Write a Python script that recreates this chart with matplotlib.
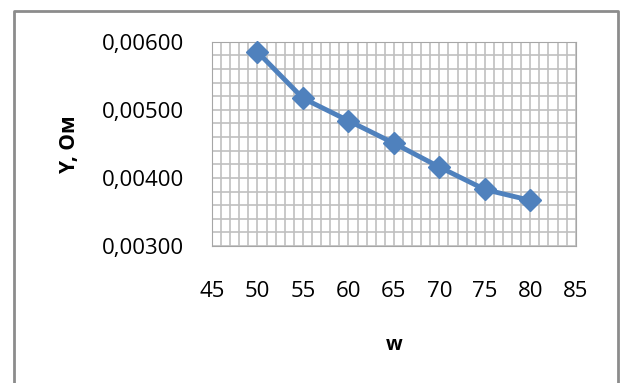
import matplotlib.pyplot as plt
from matplotlib.lines import Line2D
from matplotlib.ticker import MultipleLocator, FuncFormatter

w = [50, 55, 60, 65, 70, 75, 80]
y_ohm = [0.00585, 0.00517, 0.00484, 0.00451, 0.00416, 0.00383, 0.00367]

plt.rcParams['font.family'] = ['Open Sans', 'DejaVu Sans']

fig = plt.figure(figsize=(6.26, 3.83), dpi=100)
ax = fig.add_axes([0.3387, 0.3577, 0.581, 0.5333])

# chart border (bottom edge runs past the image)
bx = [13.5 / 626, 13.5 / 626, 617.5 / 626, 617.5 / 626]
by = [-0.05, 1 - 11 / 383, 1 - 11 / 383, -0.05]
fig.add_artist(Line2D(bx, by, transform=fig.transFigure,
                      color='#8c8c8c', linewidth=2))

ax.plot(w, y_ohm, color='#4f81bd', linewidth=3.5, marker='D', markersize=11,
        markerfacecolor='#4f81bd', markeredgecolor='#4f81bd', zorder=3,
        clip_on=False)

ax.set_xlim(45, 85)
ax.set_ylim(0.003, 0.006)
ax.xaxis.set_major_locator(MultipleLocator(5))
ax.xaxis.set_minor_locator(MultipleLocator(1))
ax.yaxis.set_major_locator(MultipleLocator(0.001))
ax.yaxis.set_minor_locator(MultipleLocator(0.0002))
ax.yaxis.set_major_formatter(FuncFormatter(lambda v, p: f'{v:.5f}'.replace('.', ',')))

ax.grid(True, which='both', color='#c0c0c0', linewidth=1.2)
ax.set_axisbelow(True)
ax.tick_params(which='both', length=0, labelsize=16, colors='black')
ax.tick_params(axis='x', pad=25)
ax.tick_params(axis='y', pad=20)
for s in ax.spines.values():
    s.set_color('#a6a6a6')

ax.set_xlabel('w', fontsize=14, fontweight='bold', labelpad=24)
ax.set_ylabel('Y, Ом', fontsize=15, fontweight='bold', labelpad=16)

fig.savefig('out.png', dpi=100)
